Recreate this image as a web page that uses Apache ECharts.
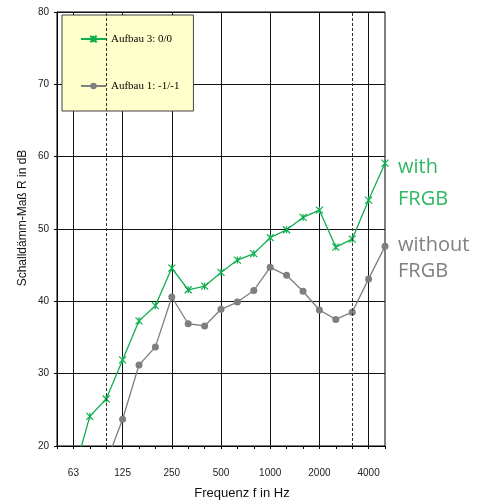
<!DOCTYPE html>
<html>
<head>
<meta charset="utf-8">
<script src="https://cdn.jsdelivr.net/npm/echarts@6.0.0/dist/echarts.min.js"></script>
<style>
html,body{margin:0;padding:0;background:#fff;}
#chart{width:492px;height:504px;}
</style>
</head>
<body>
<div id="chart"></div>
<script>
// third-octave bands, 50 Hz .. 5000 Hz
var freqs=["50","63","80","100","125","160","200","250","315","400","500","630","800","1000","1250","1600","2000","2500","3150","4000","5000"];
var octaveLabels=["63","125","250","500","1000","2000","4000"];
var dashedBands=["100","3150"];
var aufbau3=[null,16.0,24.1,26.5,31.9,37.3,39.4,44.6,41.6,42.1,44.0,45.7,46.6,48.8,49.9,51.6,52.6,47.5,48.6,54.0,59.1];
var aufbau1=[null,null,null,17.7,23.7,31.2,33.7,40.6,36.9,36.6,38.9,39.9,41.5,44.7,43.6,41.4,38.8,37.5,38.5,43.1,47.6];
var names=["Aufbau 3: 0/0","Aufbau 1: -1/-1"];

var green="#0fae4f";
var grey="#7f7f7f";
var star="path://M0,0L10,10M10,0L0,10M5,0L5,10";

var isOctave=function(idx,val){
    return octaveLabels.indexOf(val)>=0;
};

var myChart=echarts.init(document.getElementById("chart"),null,{renderer:"canvas"});
var option={
    animation:false,
    grid:{left:57,right:107,top:12,bottom:58,show:true,borderColor:"#000",borderWidth:1,backgroundColor:"transparent"},
    legend:{
        left:62,top:15,orient:"vertical",
        backgroundColor:"#ffffcc",borderColor:"#404040",borderWidth:1,
        padding:[17,14,18,18],itemGap:33,itemWidth:25,itemHeight:8,
        textStyle:{fontFamily:"Liberation Serif",fontSize:11,color:"#000",lineHeight:14},
        data:names
    },
    xAxis:{
        type:"category",data:freqs,boundaryGap:false,
        axisLine:{lineStyle:{color:"#000",width:1}},
        axisTick:{interval:0,length:3,lineStyle:{color:"#000"}},
        axisLabel:{interval:isOctave,margin:22,fontFamily:"Liberation Sans",fontSize:10,color:"#222"},
        splitLine:{show:true,interval:isOctave,lineStyle:{color:"#111",width:1}}
    },
    yAxis:{
        type:"value",min:20,max:80,interval:10,
        axisLine:{show:true,lineStyle:{color:"#000",width:1}},
        axisTick:{show:true,length:3,lineStyle:{color:"#000"}},
        axisLabel:{margin:8,fontFamily:"Liberation Sans",fontSize:10,color:"#222"},
        splitLine:{show:true,lineStyle:{color:"#111",width:1}}
    },
    series:[
        {
            name:names[0],type:"line",data:aufbau3,clip:true,
            symbol:star,symbolSize:7,
            lineStyle:{color:green,width:1.3},
            itemStyle:{color:"transparent",borderColor:green,borderWidth:1.2}
        },
        {
            name:names[1],type:"line",data:aufbau1,clip:true,
            symbol:"circle",symbolSize:7,
            lineStyle:{color:grey,width:1.3},
            itemStyle:{color:grey},
            markLine:{
                silent:true,symbol:["none","none"],label:{show:false},
                lineStyle:{color:"#333",type:[3,2],width:1},
                data:dashedBands.map(function(f){return {xAxis:f};})
            }
        }
    ],
    graphic:[
        {type:"text",x:22.5,y:218,rotation:Math.PI/2,style:{text:"Schalldämm-Maß R in dB",font:"12px 'Liberation Sans'",fill:"#111",align:"center",verticalAlign:"middle"}},
        {type:"text",x:242,y:493,style:{text:"Frequenz f in Hz",font:"13px 'Liberation Sans'",fill:"#111",align:"center",verticalAlign:"middle"}},
        {type:"text",x:398,y:167,style:{text:"with",font:"20px 'Open Sans'",fill:"#2fb863",verticalAlign:"middle"}},
        {type:"text",x:398,y:199,style:{text:"FRGB",font:"20px 'Open Sans'",fill:"#2fb863",verticalAlign:"middle"}},
        {type:"text",x:398,y:245,style:{text:"without",font:"20px 'Open Sans'",fill:"#808080",verticalAlign:"middle"}},
        {type:"text",x:398,y:271,style:{text:"FRGB",font:"20px 'Open Sans'",fill:"#808080",verticalAlign:"middle"}}
    ]
};
myChart.setOption(option);
</script>
</body>
</html>
